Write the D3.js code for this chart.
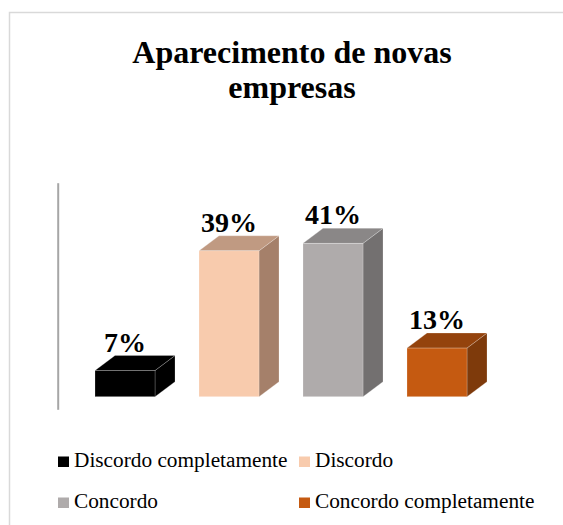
<!DOCTYPE html>
<html>
<head>
<meta charset="utf-8">
<script src="https://cdn.jsdelivr.net/npm/d3@7"></script>
<style>
  html, body { margin: 0; padding: 0; background: #ffffff; overflow: hidden; }
  svg { display: block; }
</style>
</head>
<body>
<svg id="chart" width="563" height="525"></svg>
<script>
// ---- data ----
const titleLines = ["Aparecimento de novas", "empresas"];
const categories = ["Discordo completamente", "Discordo", "Concordo", "Concordo completamente"];
const values = [0.07, 0.39, 0.41, 0.13];
const labels = ["7%", "39%", "41%", "13%"];
const frontColors = ["#000000", "#f8cbad", "#afabab", "#c55a11"];
const topColors = ["#000000", "#c09a82", "#8a8787", "#94430d"];
const sideColors = ["#000000", "#a5806a", "#737070", "#7e3a0b"];

const svg = d3.select("#chart");
const font = "'Liberation Serif', 'Times New Roman', serif";

// chart frame: only the top and left edges fall inside the picture
svg.append("path")
  .attr("d", "M9.5,525 L9.5,12.5 L563,12.5")
  .attr("fill", "none").attr("stroke", "#d9d9d9").attr("stroke-width", 1.5);

// title
svg.append("text")
  .attr("text-anchor", "middle")
  .attr("font-family", font).attr("font-weight", "bold").attr("font-size", 32)
  .attr("fill", "#000")
  .selectAll("tspan").data(titleLines).join("tspan")
  .attr("x", 292).attr("y", (d, i) => 63 + i * 35).text(d => d);

// scales
const x = d3.scaleBand().domain(categories).range([43, 519]).paddingInner(0.423).paddingOuter(0.5);
const y = d3.scaleLinear().domain([0, 0.5]).range([396.7, 209.7]);
const depthX = 20, depthY = 15;

// vertical axis (back wall line)
const yAxisScale = d3.scaleLinear().domain([0, 0.6]).range([409.3, 182.7]);
const axisG = svg.append("g").attr("transform", "translate(57.7,0)")
  .call(d3.axisLeft(yAxisScale).tickValues([]).tickSizeOuter(0));
axisG.select(".domain").attr("stroke", "#a6a6a6").attr("stroke-width", 2);

// bars (3D boxes)
const edge = { stroke: "#ffffff", width: 0.6, opacity: 0.35 };
const bars = svg.append("g").selectAll("g").data(categories).join("g");
bars.each(function(c, i) {
  const g = d3.select(this);
  const x0 = x(c), x1 = x(c) + x.bandwidth();
  const yt = y(values[i]), yb = y(0);
  g.append("path")
    .attr("d", `M${x1},${yt} L${x1 + depthX},${yt - depthY} L${x1 + depthX},${yb - depthY} L${x1},${yb} Z`)
    .attr("fill", sideColors[i]).attr("stroke", edge.stroke).attr("stroke-width", edge.width).attr("stroke-opacity", edge.opacity);
  g.append("path")
    .attr("d", `M${x0},${yt} L${x0 + depthX},${yt - depthY} L${x1 + depthX},${yt - depthY} L${x1},${yt} Z`)
    .attr("fill", topColors[i]).attr("stroke", edge.stroke).attr("stroke-width", edge.width).attr("stroke-opacity", edge.opacity);
  g.append("rect")
    .attr("x", x0).attr("y", yt).attr("width", x.bandwidth()).attr("height", yb - yt)
    .attr("fill", frontColors[i]).attr("stroke", edge.stroke).attr("stroke-width", edge.width).attr("stroke-opacity", edge.opacity);
  g.append("text")
    .attr("x", (x0 + x1) / 2).attr("y", yt - depthY - 4)
    .attr("text-anchor", "middle")
    .attr("font-family", font).attr("font-weight", "bold").attr("font-size", 28)
    .attr("fill", "#000").text(labels[i]);
});

// legend
const legendPos = [[58, 467], [299, 467], [58, 508], [299, 508]];
const legend = svg.append("g").selectAll("g").data(categories).join("g")
  .attr("transform", (d, i) => `translate(${legendPos[i][0]},${legendPos[i][1]})`);
legend.append("rect").attr("x", 0).attr("y", -10.5).attr("width", 11).attr("height", 10.5)
  .attr("fill", (d, i) => frontColors[i]);
legend.append("text").attr("x", 16).attr("y", 0)
  .attr("font-family", font).attr("font-size", 21.3).attr("fill", "#000")
  .text(d => d);
</script>
</body>
</html>
